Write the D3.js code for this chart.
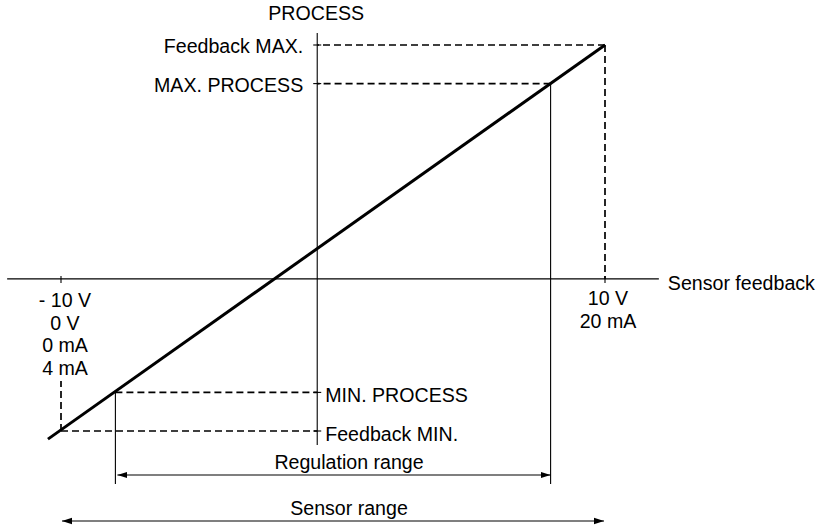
<!DOCTYPE html>
<html lang="en">
<head>
<meta charset="UTF-8">
<title>Process vs sensor feedback</title>
<script src="https://cdnjs.cloudflare.com/ajax/libs/d3/7.8.5/d3.min.js"></script>
<style>
body { margin: 0; background: #fff; }
svg { display: block; }
text { font-family: "Liberation Sans", Arial, sans-serif; font-size: 19.6px; fill: #000; }
.axis { stroke: #000; stroke-width: 1.1px; fill: none; }
.dash { stroke: #000; stroke-width: 1.7px; stroke-dasharray: 7,4; fill: none; }
.thin { stroke: #000; stroke-width: 1.1px; fill: none; }
.curve { stroke: #000; stroke-width: 3px; fill: none; }
</style>
</head>
<body>
<script>
// levels, in % of the sensor range (process follows feedback 1:1)
var levelNames = ["Feedback MIN.", "MIN. PROCESS", "MAX. PROCESS", "Feedback MAX."];
var levelValues = [0, 10, 90, 100];

// the characteristic line
var lineX = [-2.4, 100];
var lineY = [-2.1, 100];

// where the two axes sit and how far they reach
var axisCrossX = 47.1;
var axisCrossY = 39.4;
var hAxisExtent = [-9.9, 109.9];
var vAxisExtent = [-3.6, 103.1];

// tick labels under the horizontal axis
var minLabels = ["- 10 V", "0 V", "0 mA", "4 mA"];
var maxLabels = ["10 V", "20 mA"];

var width = 823, height = 527;

var x = d3.scaleLinear().domain([0, 100]).range([61, 605]);
var y = d3.scaleLinear().domain([0, 100]).range([431, 45]);

var svg = d3.select("body").append("svg")
  .attr("width", width)
  .attr("height", height);

// arrow heads
var defs = svg.append("defs");
defs.append("marker")
  .attr("id", "head")
  .attr("viewBox", "0 0 10 8")
  .attr("refX", 10).attr("refY", 4)
  .attr("markerWidth", 10).attr("markerHeight", 8)
  .attr("markerUnits", "userSpaceOnUse")
  .attr("orient", "auto-start-reverse")
  .append("path")
  .attr("d", "M0,0.8 L10,4 L0,7.2 Z")
  .attr("fill", "#000");

var X0 = x(axisCrossX), Y0 = y(axisCrossY);

// axes
svg.append("line").attr("class", "axis")
  .attr("x1", x(hAxisExtent[0])).attr("x2", x(hAxisExtent[1]))
  .attr("y1", Y0).attr("y2", Y0);
svg.append("line").attr("class", "axis")
  .attr("x1", X0).attr("x2", X0)
  .attr("y1", y(vAxisExtent[1])).attr("y2", y(vAxisExtent[0]));

svg.append("text")
  .attr("x", X0 - 1).attr("y", 20)
  .attr("text-anchor", "middle")
  .text("PROCESS");

svg.append("text")
  .attr("x", x(hAxisExtent[1]) + 9).attr("y", Y0 + 11)
  .text("Sensor feedback");

// ticks on the vertical axis
svg.selectAll(".vtick").data(levelValues).enter().append("line")
  .attr("class", "axis vtick")
  .attr("x1", X0 - 4).attr("x2", X0 + 4)
  .attr("y1", function (d) { return y(d); })
  .attr("y2", function (d) { return y(d); });

// ticks on the horizontal axis at both ends of the sensor range
svg.selectAll(".htick").data([levelValues[0], levelValues[3]]).enter().append("line")
  .attr("class", "axis htick")
  .attr("x1", function (d) { return x(d); })
  .attr("x2", function (d) { return x(d); })
  .attr("y1", Y0 - 3).attr("y2", Y0 + 4);

// horizontal dashed projections onto the process axis
svg.selectAll(".hdash").data(levelValues).enter().append("line")
  .attr("class", "dash hdash")
  .attr("x1", function (d) { return x(d); })
  .attr("x2", X0)
  .attr("y1", function (d) { return y(d); })
  .attr("y2", function (d) { return y(d); });

// vertical dashed lines at both ends of the sensor range
svg.append("line").attr("class", "dash")
  .attr("x1", x(levelValues[3])).attr("x2", x(levelValues[3]))
  .attr("y1", y(levelValues[3])).attr("y2", Y0);
svg.append("line").attr("class", "dash")
  .attr("x1", x(levelValues[0])).attr("x2", x(levelValues[0]))
  .attr("y1", y(levelValues[0])).attr("y2", 381);

// solid drops for the regulation range
[levelValues[1], levelValues[2]].forEach(function (v) {
  svg.append("line").attr("class", "thin")
    .attr("x1", x(v)).attr("x2", x(v))
    .attr("y1", y(v)).attr("y2", 484);
});

// level labels
svg.selectAll(".lvl").data(levelValues).enter().append("text")
  .attr("class", "lvl")
  .attr("x", function (d, i) { return i < 2 ? X0 + 8 : X0 - 14; })
  .attr("y", function (d, i) { return y(d) + (i < 2 ? 10 : 8); })
  .attr("text-anchor", function (d, i) { return i < 2 ? "start" : "end"; })
  .text(function (d, i) { return levelNames[i]; });

// characteristic line
svg.append("path").attr("class", "curve")
  .datum(d3.zip(lineX, lineY))
  .attr("d", d3.line().x(function (d) { return x(d[0]); }).y(function (d) { return y(d[1]); }));

// labels under the axis
svg.selectAll(".minlab").data(minLabels).enter().append("text")
  .attr("x", x(levelValues[0]) + 4)
  .attr("y", function (d, i) { return 307 + i * 22.5; })
  .attr("text-anchor", "middle")
  .text(function (d) { return d; });
svg.selectAll(".maxlab").data(maxLabels).enter().append("text")
  .attr("x", x(levelValues[3]) + 3)
  .attr("y", function (d, i) { return 305 + i * 22.5; })
  .attr("text-anchor", "middle")
  .text(function (d) { return d; });

// range arrows
svg.append("line").attr("class", "thin")
  .attr("x1", x(levelValues[1]) + 2).attr("x2", x(levelValues[2]))
  .attr("y1", 475).attr("y2", 475)
  .attr("marker-start", "url(#head)").attr("marker-end", "url(#head)");
svg.append("text")
  .attr("x", 349).attr("y", 469)
  .attr("text-anchor", "middle")
  .text("Regulation range");

svg.append("line").attr("class", "thin")
  .attr("x1", x(levelValues[0]) + 1).attr("x2", x(levelValues[3]) - 1)
  .attr("y1", 521).attr("y2", 521)
  .attr("marker-start", "url(#head)").attr("marker-end", "url(#head)");
svg.append("text")
  .attr("x", 349).attr("y", 515)
  .attr("text-anchor", "middle")
  .text("Sensor range");
</script>
</body>
</html>
